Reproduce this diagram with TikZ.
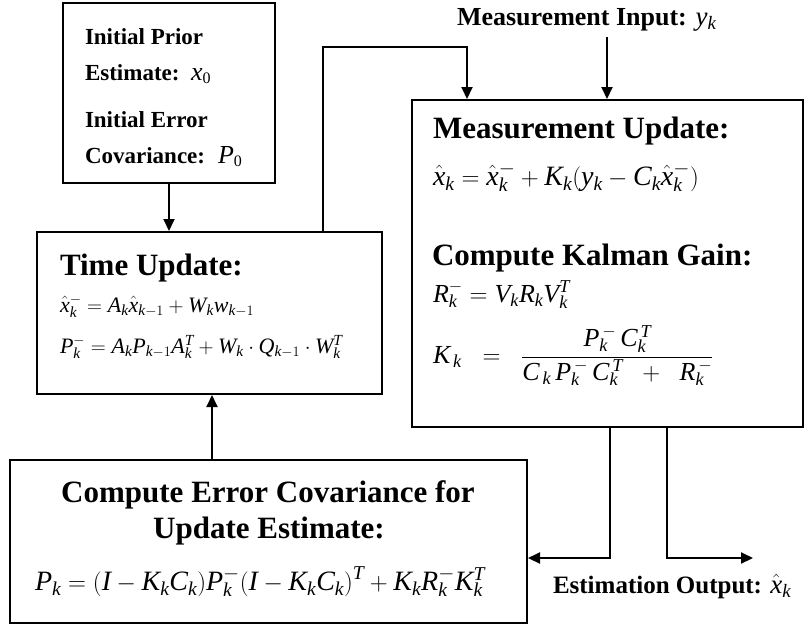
\documentclass[tikz,border=0pt]{standalone}
\usepackage{fontspec}
\setmainfont{Liberation Serif}
\DeclareSymbolFont{tletters}{TU}{\rmdefault}{m}{it}
\count255=`A
\loop
  \Umathcode\count255="7 \symtletters \count255
  \ifnum\count255<`Z \advance\count255 by 1
\repeat
\count255=`a
\loop
  \Umathcode\count255="7 \symtletters \count255
  \ifnum\count255<`z \advance\count255 by 1
\repeat
\usetikzlibrary{arrows.meta}
\newcommand{\fsz}[1]{\fontsize{#1}{#1}\selectfont}
\tikzset{
  box/.style={draw=black, line width=2pt, fill=none, inner sep=0pt},
  arr/.style={line width=2pt, -{Triangle[length=12pt,width=11pt]}},
  txt/.style={anchor=base west, inner sep=0pt, outer sep=0pt},
  ctxt/.style={anchor=base, inner sep=0pt, outer sep=0pt},
}
\begin{document}
\begin{tikzpicture}[x=1pt,y=-1pt]
\fill[white] (0,0) rectangle (805,627);
\useasboundingbox (0,0) rectangle (805,627);

% boxes
\node[box, minimum width=212pt, minimum height=180pt] (init) at (169,93) {};
\node[box, minimum width=345pt, minimum height=162pt] (tu) at (209.5,313) {};
\node[box, minimum width=391pt, minimum height=327pt] (meas) at (607.5,263.5) {};
\node[box, minimum width=517pt, minimum height=163pt] (err) at (268.5,541.5) {};

% initial box text
\node[txt] (i1) at (85,44) {\fsz{23}\bfseries Initial Prior};
\node[txt] (i2) at (85,80) {\fsz{23}\bfseries Estimate:};
\node[txt] (i2m) at (191,80) {\fsz{26}$x_{\hbox{\fsz{16}0}}$};
\node[txt] (i3) at (85,127) {\fsz{23}\bfseries Initial Error};
\node[txt] (i4) at (85,163) {\fsz{23}\bfseries Covariance:};
\node[txt] (i4m) at (218,163) {\fsz{26}$P_{\hbox{\fsz{16}0}}$};

% time update text
\node[txt] (t1) at (60,275) {\fsz{31}\bfseries Time Update:};
\node[txt] (t2) at (60,312) {\fsz{22}$\hat{x}_k^- = A_k\hat{x}_{k-1} + W_k w_{k-1}$};
\node[txt] (t3) at (60,353) {\fsz{22}$P_k^- = A_k P_{k-1} A_k^T + W_k \cdot Q_{k-1} \cdot W_k^T$};

% measurement update text
\node[txt] (m1) at (433,138) {\fsz{31}\bfseries Measurement Update:};
\node[txt] (m2) at (433,185) {\fsz{28}$\hat{x}_k = \hat{x}_k^- + K_k(y_k - C_k\hat{x}_k^-)$};
\node[txt] (m3) at (432,265) {\fsz{31}\bfseries Compute Kalman Gain:};
\node[txt] (m4) at (433,302) {\fsz{26}$R_k^- = V_k R_k V_k^T$};
\node[txt] (m5) at (433,363) {\fsz{26}$\displaystyle K_{\,k} \;\;=\;\; \frac{P_k^{\,-} \, C_k^{\,T}}{C_{\,k} \, P_k^{\,-} \, C_k^{\,T} \;\;+\;\; R_k^{\,-}}$};

% error covariance text
\node[ctxt] (e1) at (268,502) {\fsz{31}\bfseries Compute Error Covariance for};
\node[ctxt] (e2) at (269,538) {\fsz{31}\bfseries Update Estimate:};
\node[txt] (e3) at (35,590) {\fsz{28}$P_k =(I - K_k C_k) P_k^- \bigl(I - K_k C_k\bigr)^T + K_k R_k^- K_k^T$};

% outside labels
\node[txt] (inlab) at (457,25) {\fsz{26}\bfseries Measurement Input: \fsz{27}$y_k$};
\node[txt] (outlab) at (553,593) {\fsz{25}\bfseries Estimation Output: \fsz{27}$\hat{x}_k$};

% connectors
\coordinate (c1) at (323,47);
\coordinate (c2) at (467,47);
\coordinate (in) at (607,37);
\coordinate (b1) at (610,558);
\coordinate (b2) at (667,558);
\coordinate (outp) at (753,558);
\coordinate (b3) at (212,460);

\draw[arr] (init.south) -- (init.south |- tu.north);
\draw[arr] (tu.north -| c1) -- (c1) -- (c2) -- (c2 |- meas.north);
\draw[arr] (in) -- (in |- meas.north);
\draw[arr] (meas.south -| b1) -- (b1) -- (b1 -| err.east);
\draw[arr] (meas.south -| b2) -- (b2) -- (outp);
\draw[arr] (err.north -| b3) -- (b3 |- tu.south);
\end{tikzpicture}
\end{document}
